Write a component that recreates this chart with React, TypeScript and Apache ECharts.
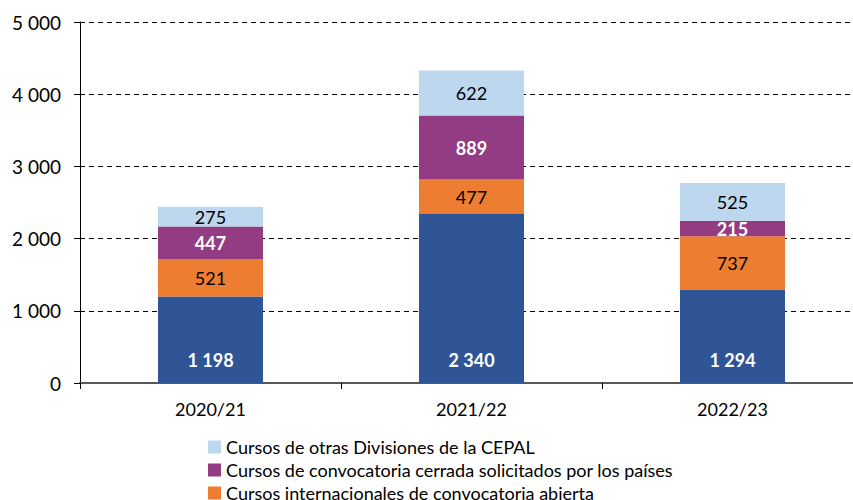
import React, { useEffect, useRef } from "react";
import * as echarts from "echarts";

const categories = ["2020/21", "2021/22", "2022/23"];
const seriesNames = [
  "Cursos regulares",
  "Cursos internacionales de convocatoria abierta",
  "Cursos de convocatoria cerrada solicitados por los países",
  "Cursos de otras Divisiones de la CEPAL",
];
const blueValues = [1198, 2340, 1294];
const orangeValues = [521, 477, 737];
const purpleValues = [447, 889, 215];
const lightValues = [275, 622, 525];
const yTicks = [0, 1000, 2000, 3000, 4000, 5000];

const fmt = (v: number) => String(v).replace(/\B(?=(\d{3})+(?!\d))/g, " ");
const FONT = "Lato, 'Open Sans', sans-serif";

export default function App() {
  const ref = useRef<HTMLDivElement>(null);
  useEffect(() => {
    if (!ref.current) return;
    const chart = echarts.init(ref.current, undefined, { renderer: "svg" });
    const mk = (name: string, data: number[], color: string, labelColor: string, bold: boolean, pos: any, dist = 0) => ({
      name,
      type: "bar",
      stack: "total",
      data,
      barWidth: 105,
      itemStyle: { color },
      label: {
        show: true,
        position: pos,
        distance: dist,
        color: labelColor,
        fontWeight: bold ? "bold" : "normal",
        fontSize: 18,
        fontFamily: FONT,
        formatter: (p: any) => fmt(p.value),
      },
    });
    chart.setOption({
      animation: false,
      textStyle: { fontFamily: FONT },
      grid: { left: 80, top: 22, right: 17, height: 361 },
      legend: {
        data: [seriesNames[3], seriesNames[2], seriesNames[1]],
        orient: "vertical",
        left: 208,
        top: 438,
        padding: 0,
        itemWidth: 13,
        itemHeight: 13,
        itemGap: 5,
        icon: "rect",
        selectedMode: false,
        textStyle: { fontSize: 18, lineHeight: 18, color: "#000", fontFamily: FONT },
      },
      xAxis: {
        type: "category",
        data: categories,
        axisLine: { lineStyle: { color: "#595959", width: 2 } },
        axisTick: { show: true, length: 6, alignWithLabel: false, interval: 0, lineStyle: { color: "#000" } },
        axisLabel: { fontSize: 18, color: "#000", margin: 17, fontFamily: FONT },
      },
      yAxis: {
        type: "value",
        min: 0,
        max: 5000,
        interval: 1000,
        axisLine: { show: true, lineStyle: { color: "#000" } },
        axisTick: { show: true, length: 6, lineStyle: { color: "#000" } },
        axisLabel: { fontSize: 19, color: "#000", margin: 19, fontFamily: FONT, formatter: (v: number) => (yTicks.includes(v) ? fmt(v) : "") },
        splitLine: { show: true, lineStyle: { color: "#000", type: [5, 4] } },
      },
      series: [
        mk(seriesNames[0], blueValues, "#2F5597", "#fff", true, "insideBottom", 14),
        mk(seriesNames[1], orangeValues, "#ED7D31", "#000", false, "inside"),
        mk(seriesNames[2], purpleValues, "#933B83", "#fff", true, "inside"),
        mk(seriesNames[3], lightValues, "#BDD7EE", "#000", false, "inside"),
      ],
    });
    return () => chart.dispose();
  }, []);
  return (
    <div style={{ position: "fixed", left: 0, top: 0, width: 853, height: 500, overflow: "hidden", background: "#fff" }}>
      <div ref={ref} style={{ width: 880, height: 520 }} />
    </div>
  );
}
